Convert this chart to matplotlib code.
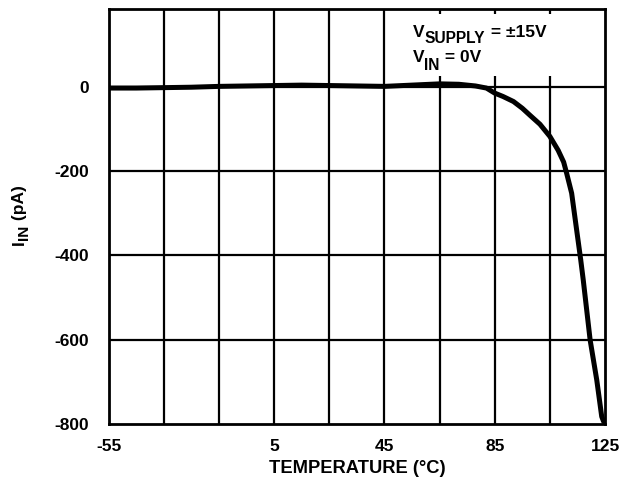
import matplotlib
matplotlib.use("Agg")
import matplotlib.pyplot as plt
from matplotlib.patches import Rectangle

plt.rcParams['font.family'] = ['Liberation Sans', 'DejaVu Sans']
plt.rcParams['font.weight'] = 'bold'

# Data
temperature = [-55, -45, -35, -25, -15, -5, 5, 15, 25, 35, 45, 55, 65, 72, 78, 82,
               85, 88, 91.8, 95, 98, 101.4, 105, 108, 110, 111.1, 112.9, 114.7,
               116.2, 117.1, 119.6, 122, 123.8, 124.5]
current_pa = [-2, -2, -1, 0, 2, 3, 4, 5, 4, 3, 2, 5, 8, 7, 3, -2,
              -14, -22, -34, -50, -68, -88, -117, -150, -178, -205, -252, -339,
              -411, -458, -601, -696, -783, -795]

x_ticks = [-55, 5, 45, 85, 125]
x_grid = [-35, -15, 5, 25, 45, 65, 85, 105]
y_ticks = [0, -200, -400, -600, -800]

fig = plt.figure(figsize=(6.33, 4.78), dpi=100)
ax = fig.add_axes([0.1717, 0.1136, 0.7841, 0.8676])

ax.set_xlim(-55, 125)
ax.set_ylim(-800, 186)

for xg in x_grid:
    ax.axvline(xg, color='black', lw=1.6, zorder=1)
for yg in y_ticks[:-1]:
    ax.axhline(yg, color='black', lw=1.6, zorder=1)

ax.add_patch(Rectangle((0.562, 0.838), 0.432, 0.150, transform=ax.transAxes,
                       facecolor='white', edgecolor='none', zorder=2))

ax.plot(temperature, current_pa, color='black', lw=3.6, solid_capstyle='round',
        solid_joinstyle='round', zorder=3)

ax.set_xticks(x_ticks)
ax.set_xticklabels([str(v) for v in x_ticks])
ax.set_yticks(y_ticks)
ax.set_yticklabels([str(v) for v in y_ticks])
ax.tick_params(axis='both', length=0, labelsize=12.5)
ax.tick_params(axis='x', pad=11)
ax.tick_params(axis='y', pad=14)
for lbl in ax.get_xticklabels() + ax.get_yticklabels():
    lbl.set_fontweight('bold')

for sp in ax.spines.values():
    sp.set_linewidth(2.0)
    sp.set_zorder(4)

ax.set_xlabel('TEMPERATURE (°C)', fontsize=13.2, fontweight='bold')
ax.xaxis.set_label_coords(0.5, -0.088)

# Y label built from pieces: I, subscript IN, (pA)
yl1 = fig.text(0.042, 0.487, 'I', rotation=90, fontsize=12.5, fontweight='bold',
               ha='right', va='bottom')
yl2 = ax.annotate('IN', xy=(1, 1), xycoords=yl1, xytext=(4, 0),
                  textcoords='offset pixels', rotation=90, fontsize=11,
                  fontweight='bold', ha='right', va='bottom', annotation_clip=False)
yl3 = ax.annotate(' (pA)', xy=(1, 1), xycoords=yl2, xytext=(-4, 0),
                  textcoords='offset pixels', rotation=90, fontsize=12.5,
                  fontweight='bold', ha='right', va='bottom', annotation_clip=False)

# Annotation: V_SUPPLY = ±15V, V_IN = 0V
def sub_label(x, y, main, sub, rest, drop):
    t1 = ax.text(x, y, main, transform=ax.transAxes, fontsize=12.5,
                 fontweight='bold', ha='left', va='bottom', zorder=5)
    t2 = ax.annotate(sub, xy=(1, 0), xycoords=t1, xytext=(0, -drop),
                     textcoords='offset pixels', fontsize=11.2, fontweight='bold',
                     ha='left', va='bottom', zorder=5, annotation_clip=False)
    ax.annotate(rest, xy=(1, 0), xycoords=t2, xytext=(1, drop),
                textcoords='offset pixels', fontsize=12.5, fontweight='bold',
                ha='left', va='bottom', zorder=5, annotation_clip=False)

sub_label(0.612, 0.926, 'V', 'SUPPLY', ' = ±15V', 6)
sub_label(0.612, 0.866, 'V', 'IN', ' = 0V', 8)

fig.savefig('out.png', dpi=100)
